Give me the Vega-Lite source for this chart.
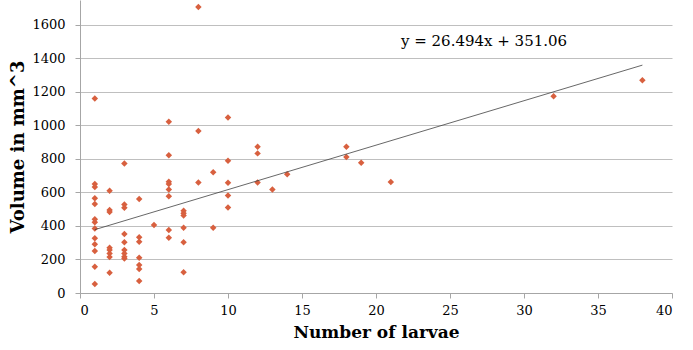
{
  "$schema": "https://vega.github.io/schema/vega-lite/v6.json",
  "autosize": "none",
  "width": 592,
  "height": 293,
  "padding": {"left": 80, "top": 0, "right": 21, "bottom": 57},
  "background": "white",
  "config": {
    "view": {"stroke": null},
    "font": "DejaVu Serif",
    "axis": {"labelFont": "DejaVu Serif", "titleFont": "DejaVu Serif"}
  },
  "datasets": {
    "pts": [
      {"larvae": 1, "volume": 1159}, {"larvae": 1, "volume": 649}, {"larvae": 1, "volume": 631}, {"larvae": 1, "volume": 564}, {"larvae": 1, "volume": 530}, {"larvae": 1, "volume": 439}, {"larvae": 1, "volume": 421}, {"larvae": 1, "volume": 385}, {"larvae": 1, "volume": 326}, {"larvae": 1, "volume": 290}, {"larvae": 1, "volume": 250}, {"larvae": 1, "volume": 157}, {"larvae": 1, "volume": 54},
      {"larvae": 2, "volume": 609}, {"larvae": 2, "volume": 494}, {"larvae": 2, "volume": 482}, {"larvae": 2, "volume": 270}, {"larvae": 2, "volume": 256}, {"larvae": 2, "volume": 236}, {"larvae": 2, "volume": 214}, {"larvae": 2, "volume": 121},
      {"larvae": 3, "volume": 772}, {"larvae": 3, "volume": 528}, {"larvae": 3, "volume": 508}, {"larvae": 3, "volume": 351}, {"larvae": 3, "volume": 302}, {"larvae": 3, "volume": 256}, {"larvae": 3, "volume": 236}, {"larvae": 3, "volume": 216}, {"larvae": 3, "volume": 206},
      {"larvae": 4, "volume": 560}, {"larvae": 4, "volume": 332}, {"larvae": 4, "volume": 305}, {"larvae": 4, "volume": 210}, {"larvae": 4, "volume": 167}, {"larvae": 4, "volume": 143}, {"larvae": 4, "volume": 71},
      {"larvae": 5, "volume": 405},
      {"larvae": 6, "volume": 1020}, {"larvae": 6, "volume": 821}, {"larvae": 6, "volume": 663}, {"larvae": 6, "volume": 649}, {"larvae": 6, "volume": 617}, {"larvae": 6, "volume": 577}, {"larvae": 6, "volume": 375}, {"larvae": 6, "volume": 329},
      {"larvae": 7, "volume": 490}, {"larvae": 7, "volume": 475}, {"larvae": 7, "volume": 462}, {"larvae": 7, "volume": 389}, {"larvae": 7, "volume": 302}, {"larvae": 7, "volume": 123},
      {"larvae": 8, "volume": 1704}, {"larvae": 8, "volume": 966}, {"larvae": 8, "volume": 659},
      {"larvae": 9, "volume": 720}, {"larvae": 9, "volume": 389},
      {"larvae": 10, "volume": 1046}, {"larvae": 10, "volume": 788}, {"larvae": 10, "volume": 657}, {"larvae": 10, "volume": 581}, {"larvae": 10, "volume": 510},
      {"larvae": 12, "volume": 871}, {"larvae": 12, "volume": 832}, {"larvae": 12, "volume": 659},
      {"larvae": 13, "volume": 617},
      {"larvae": 14, "volume": 707},
      {"larvae": 18, "volume": 871}, {"larvae": 18, "volume": 811},
      {"larvae": 19, "volume": 776},
      {"larvae": 21, "volume": 661},
      {"larvae": 32, "volume": 1173},
      {"larvae": 38, "volume": 1268}
    ],
    "trend": [
      {"larvae": 1, "volume": 377.55},
      {"larvae": 38, "volume": 1357.83}
    ],
    "label": [
      {"larvae": 27.3, "volume": 1502, "text": "y = 26.494x + 351.06"}
    ]
  },
  "encoding": {
    "x": {
      "field": "larvae", "type": "quantitative",
      "scale": {"domain": [0, 40], "nice": false, "zero": true},
      "axis": {
        "values": [0, 5, 10, 15, 20, 25, 30, 35, 40],
        "format": "d", "labelOverlap": false,
        "title": "Number of larvae",
        "titleFontSize": 17, "titleFontWeight": "bold", "titleColor": "#000000", "titlePadding": 7,
        "labelFontSize": 13, "labelColor": "#000000", "labelPadding": 6,
        "grid": false,
        "domainColor": "#a6a6a6", "tickColor": "#a6a6a6", "tickSize": 5
      }
    },
    "y": {
      "field": "volume", "type": "quantitative",
      "scale": {"domain": [0, 1746], "nice": false, "zero": true},
      "axis": {
        "values": [0, 200, 400, 600, 800, 1000, 1200, 1400, 1600],
        "tickCount": 9,
        "format": "d", "labelOverlap": false, "labelBound": false,
        "title": "Volume in mm^3",
        "titleFontSize": 18, "titleFontWeight": "bold", "titleColor": "#000000", "titlePadding": 4,
        "labelFontSize": 13, "labelColor": "#000000", "labelPadding": 10,
        "grid": true, "gridColor": "#bfbfbf", "gridWidth": 1,
        "domainColor": "#a6a6a6", "tickColor": "#a6a6a6", "tickSize": 5
      }
    }
  },
  "layer": [
    {
      "data": {"name": "pts"},
      "mark": {"type": "point", "shape": "diamond", "filled": true, "size": 42, "color": "#D8603F", "opacity": 1}
    },
    {
      "data": {"name": "trend"},
      "mark": {"type": "line", "color": "#404040", "strokeWidth": 0.8}
    },
    {
      "data": {"name": "label"},
      "mark": {"type": "text", "font": "DejaVu Serif", "fontSize": 15, "color": "#000000", "align": "center", "baseline": "middle"},
      "encoding": {
        "text": {"field": "text"}
      }
    }
  ]
}
